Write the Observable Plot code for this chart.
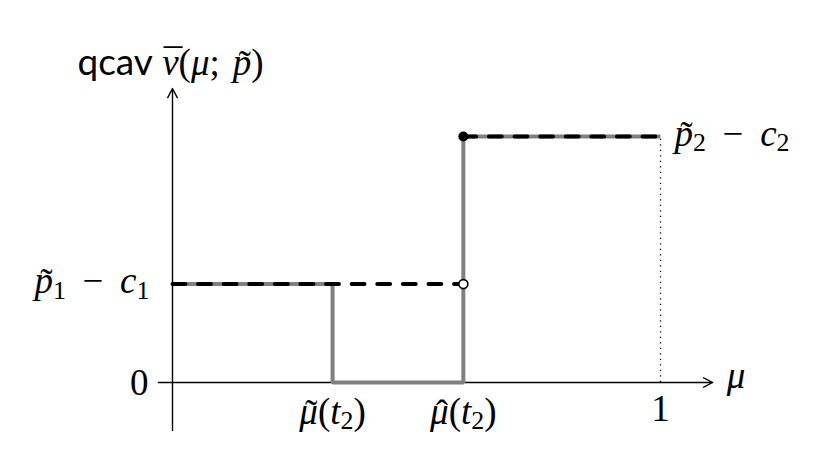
<!DOCTYPE html>
<html>
<head>
<meta charset="utf-8">
<script src="https://cdn.jsdelivr.net/npm/d3@7"></script>
<script src="https://cdn.jsdelivr.net/npm/@observablehq/plot@0.6"></script>
<style>
  html, body { margin: 0; padding: 0; background: #fff; }
  #chart { width: 832px; height: 473px; }
</style>
</head>
<body>
<div id="chart"></div>
<script>
// Key positions on the μ axis (fraction of [0,1])
const muTilde = 0.328;   // μ̃(t2)
const muHat = 0.596;     // μ̂(t2)
const muOne = 1;
// Payoff levels
const level1 = 0.4;      // p̃1 − c1
const level2 = 1;        // p̃2 − c2

// grey step function vertices
const stepX = [0, muTilde, muTilde, muHat, muHat, muOne];
const stepY = [level1, level1, 0, 0, level2, level2];
// black dashed segments
const dash1X = [0, muHat];
const dash1Y = [level1, level1];
const dash2X = [muHat, muOne];
const dash2Y = [level2, level2];

// axis extents
const xAxisRange = [-0.029, 1.107];
const yAxisRange = [-0.195, 1.195];

// labels ("_" = subscript character, {...} = sans-serif text)
const xTickValues = [muTilde, muHat];
const xTickLabels = ["μ̃(t_2)", "μ̂(t_2)"];
const oneLabel = "1";
const zeroLabel = "0";
const level1Label = "p̃_1 − c_1";
const level2Label = "p̃_2 − c_2";
const xAxisLabel = "μ";
const yAxisLabel = "{qcav} v̄(μ; p̃)";

const step = stepX.map((x, i) => ({x, y: stepY[i]}));
const d1 = dash1X.map((x, i) => ({x, y: dash1Y[i]}));
const d2 = dash2X.map((x, i) => ({x, y: dash2Y[i]}));
const xt = xTickValues.map((x, i) => ({x, label: xTickLabels[i]}));

const FS = 37;
const SERIF = "'Liberation Serif', 'DejaVu Serif', serif";
const SANS = "Lato, 'Open Sans', sans-serif";
const T = {fill: "black", fontSize: FS, lineAnchor: "bottom"};

const chart = Plot.plot({
  width: 832,
  height: 473,
  margin: 0,
  x: {domain: [0, 1], range: [172, 660], axis: null},
  y: {domain: [0, 1], range: [382, 136], axis: null},
  style: {background: "#fff"},
  marks: [
    // axes
    Plot.arrow([{}], {x1: xAxisRange[0], x2: xAxisRange[1], y1: 0, y2: 0,
      stroke: "black", strokeWidth: 1.4, headLength: 11, headAngle: 55, bend: 0}),
    Plot.arrow([{}], {x1: 0, x2: 0, y1: yAxisRange[0], y2: yAxisRange[1],
      stroke: "black", strokeWidth: 1.4, headLength: 11, headAngle: 55, bend: 0}),
    // dotted line at μ = 1
    Plot.ruleX([muOne], {y1: 0, y2: level2, stroke: "black", strokeWidth: 1.3,
      strokeDasharray: "1.3,4.2"}),
    // grey step
    Plot.line(step, {x: "x", y: "y", stroke: "#808080", strokeWidth: 4,
      strokeLinejoin: "miter", strokeLinecap: "butt"}),
    // black dashed
    Plot.line(d1, {x: "x", y: "y", stroke: "black", strokeWidth: 4,
      strokeDasharray: "12.8,12.8"}),
    Plot.line(d2, {x: "x", y: "y", stroke: "black", strokeWidth: 4,
      strokeDasharray: "12.8,12.8"}),
    // dots
    Plot.dot([{x: muHat, y: level1}], {x: "x", y: "y", r: 4.5, fill: "white",
      stroke: "black", strokeWidth: 1.6}),
    Plot.dot([{x: muHat, y: level2}], {x: "x", y: "y", r: 5, fill: "black"}),
    // tick labels
    Plot.text(xt, {x: "x", y: () => 0, text: "label", dy: 41, ...T}),
    Plot.text([oneLabel], {x: muOne, y: 0, text: (d) => d, dy: 38, ...T}),
    Plot.text([zeroLabel], {x: 0, y: 0, text: (d) => d, dx: -24, dy: 12, textAnchor: "end", ...T}),
    Plot.text([level1Label], {x: 0, y: level1, text: (d) => d, dx: -23, dy: 9, textAnchor: "end", ...T}),
    Plot.text([level2Label], {x: muOne, y: level2, text: (d) => d, dx: 14, dy: 9,
      textAnchor: "start", ...T}),
    Plot.text([xAxisLabel], {x: xAxisRange[1], y: 0, text: (d) => d, dx: 14, dy: 5,
      textAnchor: "start", ...T}),
    Plot.text([yAxisLabel], {x: 0, y: yAxisRange[1], text: (d) => d, dy: -14, dx: -2,
      textAnchor: "middle", ...T})
  ]
});
document.getElementById("chart").appendChild(chart);

// --- typesetting of the labels (TeX-like) ---
const SVGNS = "http://www.w3.org/2000/svg";
const ACCENTS = {"\u0303": "\u02dc", "\u0302": "\u02c6", "\u0304": "\u00af"};
function parse(s) {
  const chars = Array.from(s);
  const parts = [];
  for (let i = 0; i < chars.length; i++) {
    let c = chars[i];
    if (c === "{") {
      let w = "";
      while (chars[++i] !== "}") w += chars[i];
      parts.push({text: w, sans: true});
      continue;
    }
    if (c === " ") { parts.push({space: FS * 0.25}); continue; }
    let sub = false;
    if (c === "_") { sub = true; c = chars[++i]; }
    let accent = null;
    if (i + 1 < chars.length && ACCENTS[chars[i + 1]]) accent = ACCENTS[chars[++i]];
    const italic = /[A-Za-z\u03b1-\u03c9]/.test(c);
    const p = {text: c, sub, italic, accent};
    if (c === "−") { p.before = FS * 0.2; p.after = FS * 0.2; }
    if (c === ";") { p.after = FS * 0.1; }
    parts.push(p);
  }
  return parts;
}
function typeset(el) {
  const parts = parse(el.textContent);
  while (el.firstChild) el.removeChild(el.firstChild);
  el.style.fontFamily = SERIF;
  el.style.fontSize = FS + "px";
  let cur = 0, pending = 0;
  const SUB = FS * 0.16;
  for (const p of parts) {
    if (p.space !== undefined) { pending += p.space; continue; }
    const ts = document.createElementNS(SVGNS, "tspan");
    ts.textContent = p.text;
    const target = p.sub ? SUB : 0;
    ts.setAttribute("dy", target - cur); cur = target;
    ts.setAttribute("dx", pending + (p.before || 0)); pending = p.after || 0;
    ts.style.fontStyle = p.italic ? "italic" : "normal";
    ts.style.fontFamily = p.sans ? SANS : SERIF;
    if (p.sub) ts.style.fontSize = (FS * 0.7) + "px";
    el.appendChild(ts);
    if (p.accent) {
      const bw = ts.getComputedTextLength();
      const acc = document.createElementNS(SVGNS, "tspan");
      acc.textContent = p.accent;
      acc.style.fontStyle = "normal";
      acc.style.fontFamily = SERIF;
      const ady = p.accent === "\u00af" ? FS * 0.02 : FS * 0.06;
      acc.setAttribute("dy", ady); cur += ady;
      el.appendChild(acc);
      const aw = acc.getComputedTextLength();
      const skew = p.italic ? FS * 0.07 : 0;
      acc.setAttribute("dx", -(bw + aw) / 2 + skew);
      pending += (bw - aw) / 2 - skew;
    }
  }
  if (Math.abs(pending) > 0.01) {
    const ts = document.createElementNS(SVGNS, "tspan");
    ts.textContent = "\u2009";
    ts.setAttribute("dx", pending - FS * 0.15);
    ts.setAttribute("dy", -cur);
    el.appendChild(ts);
  }
}
chart.querySelectorAll('g[aria-label="text"] text').forEach(typeset);
</script>
</body>
</html>
